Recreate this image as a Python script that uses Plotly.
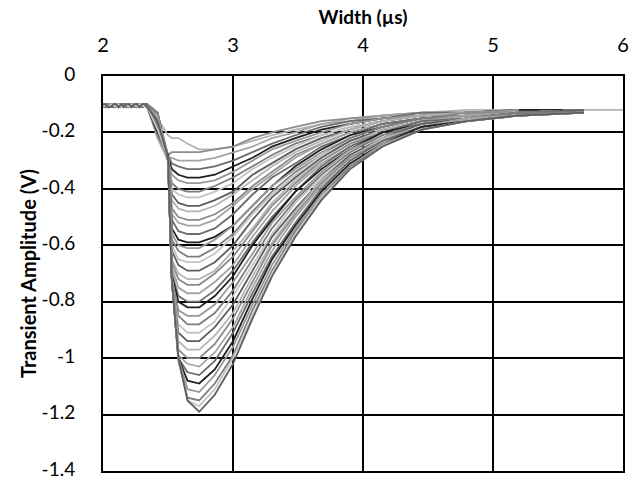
import plotly.graph_objects as go

# Shared pre-pulse baseline (time in µs, amplitude in V)
BASE_T = [2.00, 2.02, 2.04, 2.06, 2.08, 2.10, 2.12, 2.14, 2.16, 2.18,
          2.20, 2.22, 2.24, 2.26, 2.28, 2.30, 2.32, 2.34]
BASE_A = [-0.10, -0.11, -0.10, -0.10, -0.11, -0.10, -0.11, -0.10, -0.10,
          -0.11, -0.10, -0.11, -0.11, -0.10, -0.10, -0.11, -0.10, -0.10]
BASE_B = [-0.11, -0.10, -0.11, -0.10, -0.10, -0.11, -0.10, -0.11, -0.11,
          -0.10, -0.11, -0.10, -0.10, -0.11, -0.10, -0.10, -0.11, -0.11]
BASE_C = [-0.10, -0.10, -0.11, -0.11, -0.10, -0.10, -0.11, -0.10, -0.11,
          -0.10, -0.10, -0.11, -0.10, -0.10, -0.11, -0.10, -0.10, -0.11]

# Sample times of the pulse part of each transient
PULSE_T = [2.42, 2.50, 2.53, 2.58, 2.65, 2.74, 2.86, 3.00, 3.15, 3.30,
           3.48, 3.68, 3.90, 4.15, 4.45, 4.80, 5.20, 5.70, 6.00]

T01 = [-0.15, -0.21, -0.22, -0.22, -0.24, -0.26, -0.26, -0.25, -0.23, -0.21, -0.19, -0.17, -0.15, -0.14, -0.13, -0.12, -0.12, -0.12, -0.12]
T02 = [-0.18, -0.28, -0.27, -0.27, -0.27, -0.27, -0.26, -0.25, -0.22, -0.20, -0.18, -0.16, -0.15, -0.14, -0.13, -0.13, -0.12, -0.12]
T03 = [-0.20, -0.29, -0.29, -0.30, -0.30, -0.30, -0.29, -0.27, -0.25, -0.22, -0.20, -0.17, -0.16, -0.14, -0.13, -0.13, -0.12, -0.12]
T04 = [-0.14, -0.28, -0.31, -0.32, -0.33, -0.33, -0.32, -0.30, -0.27, -0.24, -0.21, -0.18, -0.16, -0.15, -0.13, -0.13, -0.12, -0.12]
T05 = [-0.21, -0.29, -0.33, -0.35, -0.36, -0.36, -0.35, -0.32, -0.29, -0.25, -0.22, -0.19, -0.17, -0.15, -0.14, -0.13, -0.12, -0.12]
T06 = [-0.17, -0.30, -0.35, -0.37, -0.38, -0.38, -0.37, -0.34, -0.30, -0.26, -0.23, -0.20, -0.17, -0.15, -0.14, -0.13, -0.12]
T07 = [-0.13, -0.29, -0.38, -0.40, -0.41, -0.41, -0.39, -0.36, -0.32, -0.28, -0.24, -0.21, -0.18, -0.16, -0.14, -0.13, -0.13, -0.12]
T08 = [-0.19, -0.28, -0.40, -0.42, -0.43, -0.43, -0.41, -0.38, -0.33, -0.29, -0.25, -0.21, -0.18, -0.16, -0.14, -0.13, -0.13, -0.12]
T09 = [-0.16, -0.29, -0.42, -0.45, -0.46, -0.46, -0.44, -0.41, -0.35, -0.31, -0.26, -0.22, -0.19, -0.16, -0.14, -0.13, -0.13, -0.12]
T10 = [-0.22, -0.30, -0.44, -0.47, -0.48, -0.48, -0.46, -0.42, -0.37, -0.32, -0.27, -0.23, -0.19, -0.16, -0.14, -0.13, -0.13]
T11 = [-0.18, -0.29, -0.47, -0.50, -0.51, -0.51, -0.49, -0.45, -0.39, -0.34, -0.28, -0.24, -0.20, -0.17, -0.15, -0.13, -0.13, -0.12]
T12 = [-0.14, -0.28, -0.49, -0.52, -0.53, -0.53, -0.51, -0.46, -0.40, -0.35, -0.29, -0.24, -0.20, -0.17, -0.15, -0.14, -0.13, -0.12]
T13 = [-0.20, -0.29, -0.51, -0.55, -0.56, -0.56, -0.54, -0.49, -0.42, -0.36, -0.31, -0.25, -0.21, -0.17, -0.15, -0.14, -0.13, -0.12]
T14 = [-0.17, -0.30, -0.54, -0.58, -0.59, -0.59, -0.57, -0.53, -0.46, -0.39, -0.32, -0.26, -0.21, -0.18, -0.15, -0.14, -0.13, -0.12]
T15 = [-0.15, -0.29, -0.56, -0.60, -0.61, -0.61, -0.58, -0.53, -0.46, -0.39, -0.33, -0.27, -0.22, -0.18, -0.15, -0.14, -0.13, -0.12]
T16 = [-0.21, -0.28, -0.58, -0.62, -0.64, -0.64, -0.61, -0.56, -0.48, -0.41, -0.34, -0.28, -0.22, -0.18, -0.15, -0.14, -0.13]
T17 = [-0.18, -0.29, -0.60, -0.65, -0.66, -0.66, -0.63, -0.57, -0.49, -0.42, -0.35, -0.28, -0.23, -0.19, -0.16, -0.14, -0.13, -0.12]
T18 = [-0.13, -0.30, -0.62, -0.67, -0.69, -0.69, -0.66, -0.60, -0.51, -0.43, -0.36, -0.29, -0.23, -0.19, -0.16, -0.14, -0.13, -0.12]
T19 = [-0.19, -0.29, -0.65, -0.70, -0.72, -0.72, -0.69, -0.62, -0.54, -0.45, -0.37, -0.30, -0.24, -0.19, -0.16, -0.14, -0.13, -0.13]
T20 = [-0.16, -0.28, -0.66, -0.72, -0.74, -0.74, -0.70, -0.64, -0.55, -0.46, -0.38, -0.30, -0.24, -0.20, -0.16, -0.14, -0.13, -0.13]
T21 = [-0.22, -0.29, -0.68, -0.75, -0.77, -0.77, -0.73, -0.67, -0.57, -0.48, -0.39, -0.31, -0.25, -0.20, -0.16, -0.14, -0.13]
T22 = [-0.15, -0.30, -0.70, -0.78, -0.80, -0.80, -0.76, -0.69, -0.59, -0.50, -0.41, -0.32, -0.25, -0.20, -0.16, -0.15, -0.13, -0.13]
T23 = [-0.19, -0.29, -0.71, -0.80, -0.82, -0.82, -0.78, -0.71, -0.60, -0.51, -0.41, -0.33, -0.26, -0.20, -0.17, -0.15, -0.13, -0.13]
T24 = [-0.17, -0.28, -0.72, -0.83, -0.85, -0.85, -0.81, -0.73, -0.63, -0.52, -0.43, -0.34, -0.26, -0.21, -0.17, -0.15, -0.13, -0.13]
T25 = [-0.13, -0.29, -0.72, -0.85, -0.88, -0.88, -0.84, -0.76, -0.65, -0.54, -0.44, -0.35, -0.27, -0.21, -0.17, -0.15, -0.13, -0.13]
T26 = [-0.20, -0.30, -0.73, -0.88, -0.91, -0.91, -0.87, -0.78, -0.67, -0.56, -0.45, -0.36, -0.28, -0.22, -0.17, -0.15, -0.14, -0.13]
T27 = [-0.16, -0.29, -0.73, -0.91, -0.94, -0.94, -0.89, -0.81, -0.69, -0.57, -0.47, -0.37, -0.28, -0.22, -0.17, -0.15, -0.14]
T28 = [-0.18, -0.28, -0.72, -0.94, -0.97, -0.97, -0.92, -0.84, -0.71, -0.59, -0.48, -0.37, -0.29, -0.22, -0.18, -0.15, -0.14, -0.13]
T29 = [-0.21, -0.29, -0.73, -0.97, -1.00, -1.00, -0.95, -0.86, -0.73, -0.60, -0.49, -0.38, -0.29, -0.23, -0.18, -0.15, -0.14, -0.13]
T30 = [-0.14, -0.30, -0.72, -0.99, -1.02, -1.03, -0.98, -0.89, -0.75, -0.62, -0.50, -0.39, -0.30, -0.23, -0.18, -0.15, -0.14, -0.13]
T31 = [-0.18, -0.29, -0.73, -1.00, -1.05, -1.06, -1.01, -0.91, -0.77, -0.64, -0.52, -0.40, -0.30, -0.23, -0.18, -0.16, -0.14, -0.13]
T32 = [-0.20, -0.28, -0.72, -1.00, -1.08, -1.09, -1.04, -0.94, -0.79, -0.65, -0.53, -0.41, -0.31, -0.24, -0.18, -0.16, -0.14, -0.13]
T33 = [-0.15, -0.29, -0.71, -1.00, -1.11, -1.12, -1.06, -0.96, -0.81, -0.67, -0.54, -0.42, -0.32, -0.24, -0.19, -0.16, -0.14, -0.13]
T34 = [-0.17, -0.30, -0.72, -1.01, -1.14, -1.15, -1.09, -0.99, -0.83, -0.69, -0.55, -0.43, -0.32, -0.25, -0.19, -0.16, -0.14]
T35 = [-0.19, -0.29, -0.71, -1.00, -1.15, -1.17, -1.11, -1.00, -0.85, -0.70, -0.56, -0.43, -0.33, -0.25, -0.19, -0.16, -0.14, -0.13]
T36 = [-0.16, -0.29, -0.72, -1.00, -1.15, -1.19, -1.13, -1.02, -0.86, -0.71, -0.57, -0.44, -0.33, -0.25, -0.19, -0.16, -0.14, -0.13]

TRACES = [T01, T02, T03, T04, T05, T06, T07, T08, T09, T10, T11, T12,
          T13, T14, T15, T16, T17, T18, T19, T20, T21, T22, T23, T24,
          T25, T26, T27, T28, T29, T30, T31, T32, T33, T34, T35, T36]
BASELINES = [BASE_A, BASE_B, BASE_C]

X_TICKS = [2, 3, 4, 5, 6]
Y_TICKS = [0, -0.2, -0.4, -0.6, -0.8, -1.0, -1.2, -1.4]
Y_TICK_TEXT = ["0", "-0.2", "-0.4", "-0.6", "-0.8", "-1", "-1.2", "-1.4"]

PALETTE = ["#b4b4b4", "#8c8c8c", "#a4a4a4", "#6c6c6c", "#202020",
           "#989898", "#7e7e7e", "#c4c4c4", "#5e5e5e"]

fig = go.Figure()
for i, vals in enumerate(TRACES):
    base = BASELINES[i % len(BASELINES)]
    xs = BASE_T + PULSE_T[:len(vals)]
    ys = base + vals
    fig.add_trace(go.Scatter(
        x=xs, y=ys, mode="lines",
        line=dict(color=PALETTE[i % len(PALETTE)], width=1.8),
        hoverinfo="skip", showlegend=False))

font_family = "Lato, 'Open Sans', sans-serif"
fig.update_layout(
    width=632, height=480,
    margin=dict(l=103, r=9, t=76, b=9),
    paper_bgcolor="white", plot_bgcolor="white",
    font=dict(family=font_family, size=19, color="black"),
    showlegend=False,
)
fig.update_xaxes(
    side="top", range=[2, 6], tickvals=X_TICKS,
    showgrid=True, gridcolor="black", gridwidth=2,
    showline=True, linecolor="black", linewidth=2, mirror=True,
    zeroline=False, ticks="", ticklabelstandoff=14,
    ticklabeloverflow="allow", automargin=False,
    tickfont=dict(size=20),
    title=dict(text="<b>Width (µs)</b>", font=dict(size=19), standoff=2),
)
fig.update_yaxes(
    range=[-1.4, 0], tickvals=Y_TICKS, ticktext=Y_TICK_TEXT,
    showgrid=True, gridcolor="black", gridwidth=2,
    showline=True, linecolor="black", linewidth=2, mirror=True,
    zeroline=False, ticks="", ticklabelstandoff=22,
    ticklabeloverflow="allow", automargin=False, ticklabelshift=-2,
    tickfont=dict(size=19),
    title=dict(text="<b>Transient Amplitude (V)</b>", font=dict(size=20), standoff=0),
)

fig.write_html("out.html")
